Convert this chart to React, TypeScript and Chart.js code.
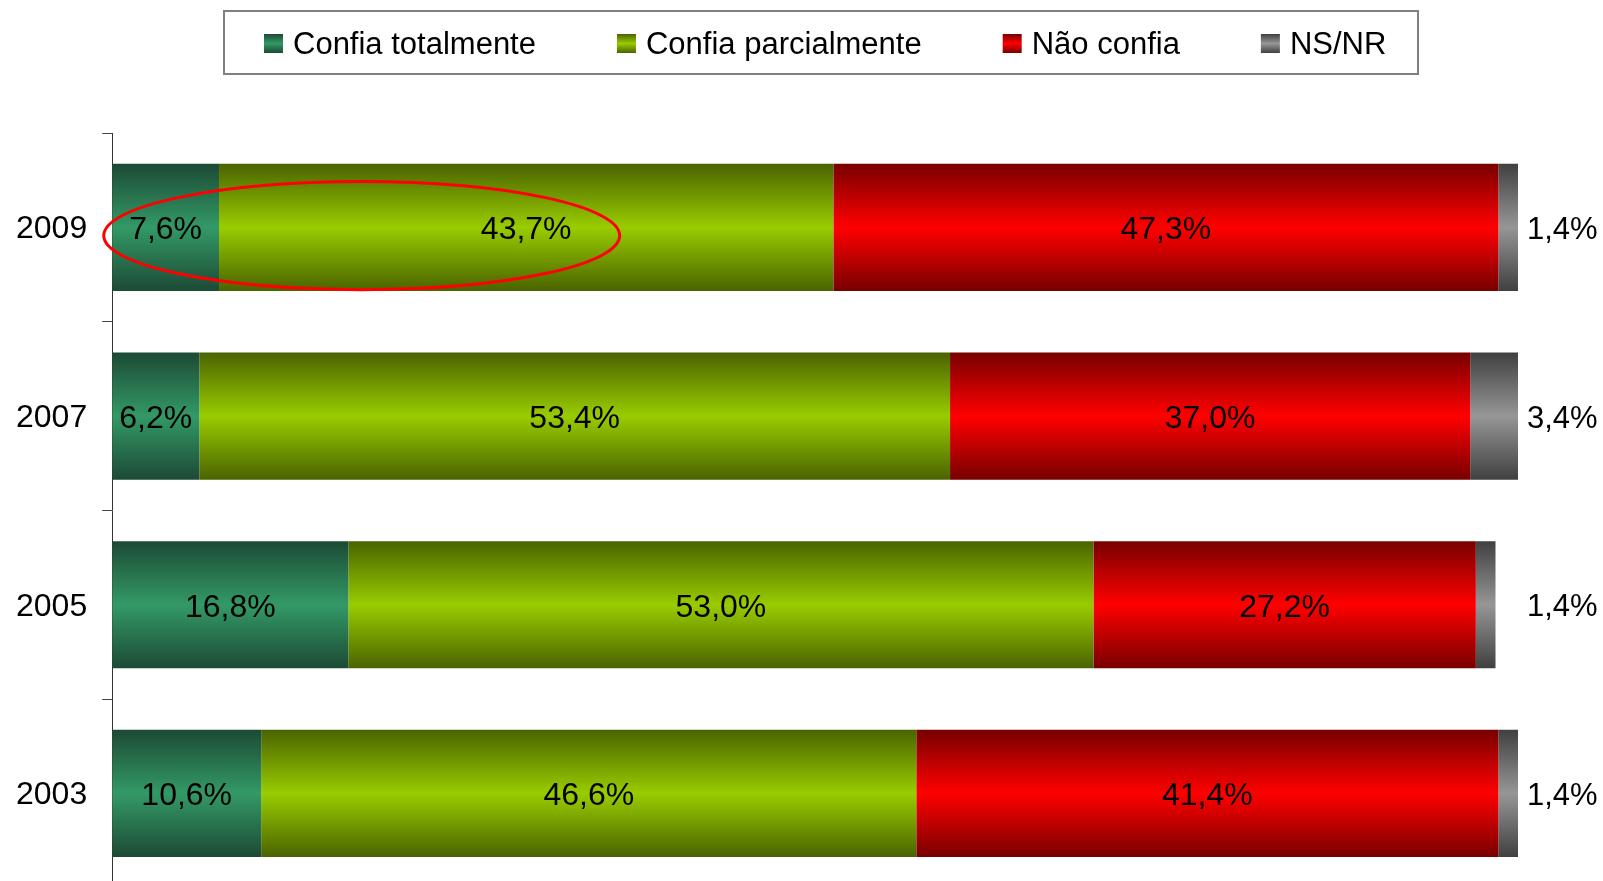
import React, { useEffect, useRef } from "react";
import { Chart, registerables } from "chart.js";

Chart.register(...registerables);

const categories = ["2009", "2007", "2005", "2003"];
const seriesNames = ["Confia totalmente", "Confia parcialmente", "Não confia", "NS/NR"];
const confiaTotalmente = [7.6, 6.2, 16.8, 10.6];
const confiaParcialmente = [43.7, 53.4, 53.0, 46.6];
const naoConfia = [47.3, 37.0, 27.2, 41.4];
const nsnr = [1.4, 3.4, 1.4, 1.4];
// [dark edge, bright centre] for each series
const seriesColors: [string, string][] = [
  ["#1c4a35", "#339966"],
  ["#4a6300", "#99cc00"],
  ["#780000", "#ff0000"],
  ["#404040", "#969696"],
];
// highlight ellipse on the 2009 bar, in data units (percent)
const highlight = { categoryIndex: 0, xFrom: -0.6, xTo: 36.1 };

const FONT = '"Liberation Sans", Arial, sans-serif';
const BAR_PCT = 0.674;

function fmt(v: number) {
  return v.toFixed(1).replace(".", ",") + "%";
}

function makeGradient(ctx: CanvasRenderingContext2D, top: number, bottom: number, c: [string, string]) {
  const g = ctx.createLinearGradient(0, top, 0, bottom);
  g.addColorStop(0, c[0]);
  g.addColorStop(0.5, c[1]);
  g.addColorStop(1, c[0]);
  return g;
}

const legendPlugin = {
  id: "boxLegend",
  afterDraw(chart: any) {
    const ctx = chart.ctx as CanvasRenderingContext2D;
    ctx.save();
    ctx.strokeStyle = "#808080";
    ctx.lineWidth = 2;
    ctx.strokeRect(224, 11, 1194, 63);
    ctx.font = `31px ${FONT}`;
    ctx.textBaseline = "middle";
    ctx.textAlign = "left";
    let x = 264;
    const cy = 43.5;
    chart.data.datasets.forEach((ds: any, i: number) => {
      const sq = 19;
      ctx.fillStyle = makeGradient(ctx, cy - sq / 2, cy + sq / 2, seriesColors[i]);
      ctx.fillRect(x, cy - sq / 2, sq, sq);
      ctx.fillStyle = "#000";
      ctx.fillText(ds.label, x + sq + 10, cy + 2);
      x += sq + 10 + ctx.measureText(ds.label).width + 81;
    });
    ctx.restore();
  },
};

const labelPlugin = {
  id: "barLabels",
  afterDatasetsDraw(chart: any) {
    const ctx = chart.ctx as CanvasRenderingContext2D;
    const area = chart.chartArea;
    ctx.save();
    ctx.fillStyle = "#000";
    ctx.textBaseline = "middle";
    chart.data.datasets.forEach((ds: any, di: number) => {
      const meta = chart.getDatasetMeta(di);
      meta.data.forEach((el: any, i: number) => {
        const v = ds.data[i];
        const { x, y, base } = el.getProps(["x", "y", "base"], true);
        if (di === chart.data.datasets.length - 1) {
          ctx.font = `31px ${FONT}`;
          ctx.textAlign = "left";
          ctx.fillText(fmt(v), area.right + 9, y + 3);
        } else {
          ctx.font = `32px ${FONT}`;
          ctx.textAlign = "center";
          ctx.fillText(fmt(v), (x + base) / 2, y + 3);
        }
      });
    });
    // highlight ellipse
    const xs = chart.scales.x;
    const ys = chart.scales.y;
    const x1 = xs.getPixelForValue(highlight.xFrom);
    const x2 = xs.getPixelForValue(highlight.xTo);
    const catH = ys.height / categories.length;
    const thick = catH * BAR_PCT;
    const cy = ys.getPixelForValue(highlight.categoryIndex) + thick * 0.065;
    ctx.beginPath();
    ctx.ellipse((x1 + x2) / 2, cy, (x2 - x1) / 2, thick * 0.425, 0, 0, Math.PI * 2);
    ctx.strokeStyle = "#ff0000";
    ctx.lineWidth = 3;
    ctx.stroke();
    ctx.restore();
  },
};

export default function App() {
  const ref = useRef<HTMLCanvasElement | null>(null);
  useEffect(() => {
    if (!ref.current) return;
    const values = [confiaTotalmente, confiaParcialmente, naoConfia, nsnr];
    const chart = new Chart(ref.current, {
      type: "bar",
      data: {
        labels: categories,
        datasets: values.map((d, i) => ({
          label: seriesNames[i],
          data: d,
          borderWidth: 0,
          barPercentage: BAR_PCT,
          categoryPercentage: 1,
          backgroundColor: (c: any) => {
            const ch = c.chart;
            const ys = ch.scales && ch.scales.y;
            if (!ys || c.dataIndex === undefined || !ch.chartArea) return seriesColors[i][1];
            const catH = ys.height / categories.length;
            const t = catH * BAR_PCT;
            const yc = ys.getPixelForValue(c.dataIndex);
            return makeGradient(ch.ctx, yc - t / 2, yc + t / 2, seriesColors[i]);
          },
        })),
      },
      options: {
        indexAxis: "y",
        responsive: false,
        animation: false,
        devicePixelRatio: 1,
        layout: { padding: { top: 133, right: 85, bottom: 0, left: 1 } },
        plugins: {
          legend: { display: false },
          tooltip: { enabled: false },
        },
        scales: {
          x: { stacked: true, min: 0, max: 100, display: false },
          y: {
            stacked: true,
            grid: {
              drawOnChartArea: false,
              drawTicks: true,
              tickLength: 10,
              tickColor: "#444",
              offset: true,
            },
            border: { display: true, color: "#333", width: 1 },
            ticks: {
              color: "#000",
              padding: 15,
              labelOffset: 2,
              font: { family: FONT, size: 32 },
            },
          },
        },
      },
      plugins: [labelPlugin, legendPlugin],
    } as any);
    return () => chart.destroy();
  }, []);
  return (
    <div style={{ position: "fixed", left: 0, top: 0, width: 1603, height: 881, overflow: "hidden", background: "#fff" }}>
      <canvas ref={ref} width={1603} height={922} style={{ display: "block" }} />
    </div>
  );
}
